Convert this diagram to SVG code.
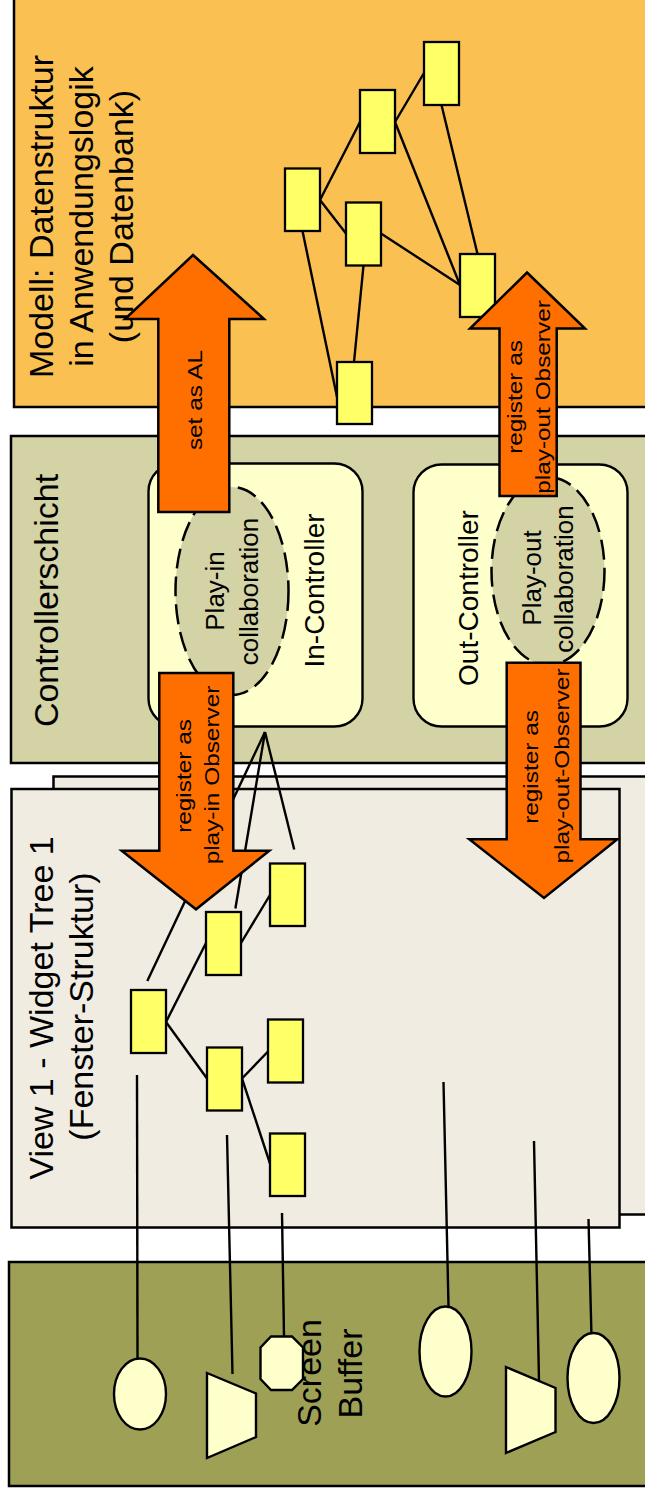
<svg xmlns="http://www.w3.org/2000/svg" width="645" height="1498" viewBox="0 0 645 1498">
<defs>
<style>
.layer{stroke:#000;stroke-width:2.5}
.model{fill:#FAC152}
.ctrl{fill:#D3D3A5}
.view{fill:#F0ECE2}
.scr{fill:#9EA056}
.node{fill:#FFFF66;stroke:#000;stroke-width:2.3}
.lt{fill:#FFFFCC;stroke:#000;stroke-width:2.4}
.coll{fill:#D3D3A5;stroke:#000;stroke-width:2.5;stroke-dasharray:20 8}
.ln{stroke:#000;stroke-width:2.4;fill:none}
.arrow{fill:#FF6F00;stroke:#000;stroke-width:2.5;stroke-linejoin:miter}
text{font-family:"Liberation Sans",Arial,sans-serif;fill:#000;text-anchor:middle}
.big{font-size:34px}
.mid{font-size:28px}
.col{font-size:26px}
.al{font-size:19.5px}
</style>
</defs>

<!-- Layers -->
<g id="model-layer">
<rect class="layer model" x="14" y="-10" width="650" height="417"/>
<text class="big" transform="translate(53,216.5) rotate(-90)">Modell: Datenstruktur</text>
<text class="big" transform="translate(93,216.5) rotate(-90)">in Anwendungslogik</text>
<text class="big" transform="translate(133,216.5) rotate(-90)">(und Datenbank)</text>
</g>

<g id="controller-layer">
<rect class="layer ctrl" x="11" y="436" width="650" height="327"/>
<text class="big" transform="translate(57.5,600.5) rotate(-90)">Controllerschicht</text>
</g>

<g id="in-controller">
<rect class="lt" x="148.5" y="463.5" width="214" height="263" rx="28" ry="28"/>
<text class="mid" transform="translate(324,590.5) rotate(-90)">In-Controller</text>
</g>
<g id="play-in-collaboration">
<ellipse class="coll" cx="232" cy="591" rx="56.5" ry="104"/>
<text class="col" transform="translate(224,591) rotate(-90)">Play-in</text>
<text class="col" transform="translate(257.5,591.5) rotate(-90)">collaboration</text>
</g>

<g id="out-controller">
<rect class="lt" x="413.5" y="464.5" width="214" height="262" rx="28" ry="28"/>
<text class="mid" transform="translate(477.5,598) rotate(-90)">Out-Controller</text>
</g>
<g id="play-out-collaboration">
<ellipse class="coll" cx="548" cy="571" rx="56.5" ry="94"/>
<text class="col" transform="translate(541,578) rotate(-90)">Play-out</text>
<text class="col" transform="translate(572.5,579) rotate(-90)">collaboration</text>
</g>

<g id="view-layer">
<rect class="layer view" x="53.5" y="776.5" width="620" height="438"/>
<rect class="layer view" x="11.5" y="789" width="608" height="438.5"/>
<text class="big" transform="translate(53,1008) rotate(-90)">View 1 - Widget Tree 1</text>
<text class="big" transform="translate(93,1006.5) rotate(-90)">(Fenster-Struktur)</text>
</g>

<g id="screen-buffer">
<rect class="layer scr" x="9" y="1262" width="660" height="224"/>
<text class="big" transform="translate(321,1373) rotate(-90)">Screen</text>
<text class="big" transform="translate(362,1373.5) rotate(-90)">Buffer</text>
</g>

<!-- Connectors -->
<g id="connectors">
<line class="ln" x1="320" y1="200" x2="360" y2="122"/>
<line class="ln" x1="395" y1="122" x2="424" y2="73"/>
<line class="ln" x1="441.5" y1="105" x2="477.5" y2="254"/>
<line class="ln" x1="395" y1="122" x2="460" y2="285"/>
<line class="ln" x1="320" y1="200" x2="346" y2="233.5"/>
<line class="ln" x1="381" y1="233.5" x2="460" y2="285"/>
<line class="ln" x1="302.5" y1="231" x2="337" y2="397"/>
<line class="ln" x1="363.5" y1="265.5" x2="354" y2="362"/>

<line class="ln" x1="166" y1="1022" x2="206" y2="943"/>
<line class="ln" x1="241" y1="943" x2="270" y2="895"/>
<line class="ln" x1="166" y1="1022" x2="207" y2="1078.5"/>
<line class="ln" x1="242" y1="1078.5" x2="268" y2="1051.5"/>
<line class="ln" x1="242" y1="1078.5" x2="270" y2="1163.5"/>

<line class="ln" x1="265" y1="732" x2="147.3" y2="981"/>
<line class="ln" x1="265" y1="732" x2="235.4" y2="908.5"/>
<line class="ln" x1="265" y1="732" x2="294.2" y2="849.5"/>

<line class="ln" x1="137" y1="1075" x2="137.5" y2="1358.5"/>
<line class="ln" x1="227" y1="1135" x2="232.5" y2="1374"/>
<line class="ln" x1="282" y1="1213" x2="284" y2="1336.5"/>
<line class="ln" x1="443.5" y1="1082" x2="448.5" y2="1306"/>
<line class="ln" x1="534" y1="1141" x2="539" y2="1380.5"/>
<line class="ln" x1="588.5" y1="1219" x2="591.4" y2="1333"/>
</g>

<!-- Model nodes -->
<g id="model-node-1"><rect class="node" x="285" y="168.5" width="35" height="62.5"/></g>
<g id="model-node-2"><rect class="node" x="360" y="90" width="35" height="63"/></g>
<g id="model-node-3"><rect class="node" x="424" y="42" width="35" height="63"/></g>
<g id="model-node-4"><rect class="node" x="346" y="202.5" width="35" height="63"/></g>
<g id="model-node-5"><rect class="node" x="460" y="254" width="35" height="63"/></g>
<g id="model-node-6"><rect class="node" x="337" y="362" width="35" height="62"/></g>

<!-- Widget nodes -->
<g id="widget-1"><rect class="node" x="131" y="990" width="35" height="63"/></g>
<g id="widget-2"><rect class="node" x="206" y="912" width="35" height="63"/></g>
<g id="widget-3"><rect class="node" x="270" y="863.5" width="35" height="62.5"/></g>
<g id="widget-4"><rect class="node" x="207" y="1047.5" width="35" height="63"/></g>
<g id="widget-5"><rect class="node" x="268" y="1019.5" width="35" height="63"/></g>
<g id="widget-6"><rect class="node" x="270" y="1133.5" width="35" height="62.5"/></g>

<!-- Screen buffer shapes -->
<g id="buffer-ellipse-1"><ellipse class="lt" cx="140" cy="1394" rx="26" ry="35.5"/></g>
<g id="buffer-trapezoid-1"><polygon class="lt" points="207,1373 256,1393.5 256,1437 207,1458"/></g>
<g id="buffer-octagon"><polygon class="lt" points="271,1336.5 292,1336.5 303,1347.5 303,1379 292,1390 271,1390 260.5,1379 260.5,1347.5"/></g>
<g id="buffer-ellipse-2"><ellipse class="lt" cx="445.5" cy="1351.5" rx="26" ry="45"/></g>
<g id="buffer-trapezoid-2"><polygon class="lt" points="506,1367 555.5,1388 555.5,1432 506,1453"/></g>
<g id="buffer-ellipse-3"><ellipse class="lt" cx="593.5" cy="1378" rx="26" ry="45"/></g>

<!-- Arrows -->
<g id="arrow-set-as-al">
<polygon class="arrow" points="193,255 264,319 229.3,319 229.3,512 158.3,512 158.3,319 125,319"/>
<text class="al" transform="translate(202,400) rotate(-90) scale(1.25,1)">set as AL</text>
</g>
<g id="arrow-register-play-out-up">
<polygon class="arrow" points="527,272.5 585,328.5 556.7,328.5 556.7,496 499.5,496 499.5,328.5 470,328.5"/>
<text class="al" transform="translate(521.5,397) rotate(-90) scale(1.25,1)">register as</text>
<text class="al" transform="translate(550,397) rotate(-90) scale(1.25,1)">play-out Observer</text>
</g>
<g id="arrow-register-play-in">
<polygon class="arrow" points="159.3,673 233.3,673 233.3,850.7 269.3,850.7 196,909.3 121.7,850.7 159.3,850.7"/>
<text class="al" transform="translate(191,776) rotate(-90) scale(1.25,1)">register as</text>
<text class="al" transform="translate(219,775) rotate(-90) scale(1.25,1)">play-in Observer</text>
</g>
<g id="arrow-register-play-out-down">
<polygon class="arrow" points="506.7,662.7 580.5,662.7 580.5,839.3 617.3,839.3 544,898 469.3,839.3 506.7,839.3"/>
<text class="al" transform="translate(538,767) rotate(-90) scale(1.25,1)">register as</text>
<text class="al" transform="translate(569,766) rotate(-90) scale(1.25,1)">play-out-Observer</text>
</g>
</svg>
